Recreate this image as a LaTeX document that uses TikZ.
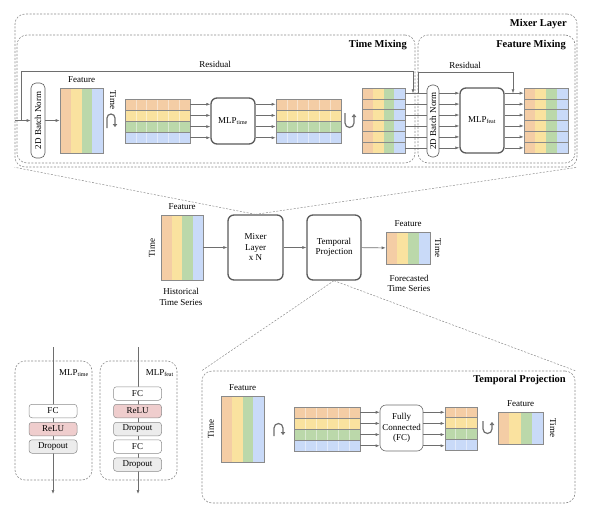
\documentclass[tikz,border=0pt]{standalone}
\usepackage{fontspec}
\setmainfont{Liberation Serif}
\usetikzlibrary{arrows.meta,calc}

\definecolor{cOr}{HTML}{F4CDA5}
\definecolor{cYe}{HTML}{FAE29F}
\definecolor{cGr}{HTML}{BBD8AA}
\definecolor{cBl}{HTML}{C9DAF8}
\definecolor{lgray}{HTML}{6E6E6E}
\definecolor{mgray}{HTML}{8A8A8A}
\definecolor{dgray}{HTML}{8C8C8C}
\definecolor{bgray}{HTML}{5A5A5A}
\definecolor{cRelu}{HTML}{EFCDCD}
\definecolor{cDrop}{HTML}{ECECEC}

\tikzset{
    vmat/.style={draw=mgray, line width=0.6pt, inner sep=0pt, path picture={
        \foreach \c [count=\i from 0] in {cOr,cYe,cGr,cBl}
            \fill[\c] ($(path picture bounding box.south west)!{\i/4}!(path picture bounding box.south east)$) rectangle ($(path picture bounding box.north west)!{(\i+1)/4}!(path picture bounding box.north east)$);
    }},
    vmatsix/.style={draw=mgray, line width=0.6pt, inner sep=0pt, path picture={
        \foreach \c [count=\i from 0] in {cOr,cYe,cGr,cBl}
            \fill[\c] ($(path picture bounding box.south west)!{\i/4}!(path picture bounding box.south east)$) rectangle ($(path picture bounding box.north west)!{(\i+1)/4}!(path picture bounding box.north east)$);
        \foreach \k in {1,...,5}
            \draw[mgray, line width=0.6pt] ($(path picture bounding box.north west)!{\k/6}!(path picture bounding box.south west)$) -- ($(path picture bounding box.north east)!{\k/6}!(path picture bounding box.south east)$);
    }},
    hmat/.style={draw=mgray, line width=0.6pt, inner sep=0pt, path picture={
        \foreach \c [count=\i from 0] in {cOr,cYe,cGr,cBl}
            \fill[\c] ($(path picture bounding box.north west)!{\i/4}!(path picture bounding box.south west)$) rectangle ($(path picture bounding box.north east)!{(\i+1)/4}!(path picture bounding box.south east)$);
        \foreach \k in {1,...,#1}
            \draw[white, opacity=0.45, line width=0.4pt] ($(path picture bounding box.north west)!{\k/(#1+1)}!(path picture bounding box.north east)$) -- ($(path picture bounding box.south west)!{\k/(#1+1)}!(path picture bounding box.south east)$);
        \foreach \k in {1,...,3}
            \draw[mgray, line width=0.6pt] ($(path picture bounding box.north west)!{\k/4}!(path picture bounding box.south west)$) -- ($(path picture bounding box.north east)!{\k/4}!(path picture bounding box.south east)$);
    }},
}

\begin{document}
\begin{tikzpicture}[x=1pt, y=1pt, font=\fontsize{9}{10.5}\selectfont,
    line/.style={draw=lgray, line width=0.6pt},
    arr/.style={line, -{Latex[length=4pt,width=3pt]}},
    region/.style={draw=dgray, line width=0.6pt, dash pattern=on 2pt off 1.5pt, rounded corners=10pt, inner sep=0pt},
    zoomline/.style={draw=dgray, line width=0.5pt, dash pattern=on 2pt off 1.5pt},
    title/.style={font=\fontsize{10.5}{12}\selectfont\bfseries, inner sep=0pt},
    block/.style={draw=bgray, line width=1.3pt, rounded corners=6pt, fill=white, align=center, inner sep=1pt},
    bnbox/.style={draw=bgray, line width=0.6pt, rounded corners=5pt, fill=white, inner sep=0pt},
    fcbox/.style={draw=lgray, line width=0.6pt, rounded corners=6pt, fill=white, align=center, inner sep=0pt},
    layer/.style={draw=mgray, line width=0.5pt, rounded corners=3pt, minimum width=48, minimum height=13.5, inner sep=0pt, fill=white},
    turn/.style={draw=lgray, line width=1.2pt, -{Triangle[length=3pt,width=4.5pt]}}]

    \useasboundingbox (0,0) rectangle (597,-511);

    \node[region, minimum width=562, minimum height=153] (mixbox) at (296,-90.5) {};
    \node[region, minimum width=398, minimum height=128] (timebox) at (216,-99) {};
    \node[region, minimum width=157, minimum height=128] (featbox) at (496.5,-99) {};
    \node[title, anchor=east] (mixtitle) at (567,-24) {Mixer Layer};
    \node[title, anchor=east] (timetitle) at (407,-45) {Time Mixing};
    \node[title, anchor=east] (feattitle) at (566,-45) {Feature Mixing};

    \node[bnbox, minimum width=14, minimum height=75] (bn1) at (38,-120.5) {\rotatebox{90}{2D Batch Norm}};
    \node[vmat, minimum width=43, minimum height=65] (m1) at (81.5,-120.5) {};
    \node (m1f) at (81.5,-80) {Feature};
    \node[rotate=-90] (m1t) at (113,-100) {Time};
    \node[hmat=5, minimum width=65, minimum height=44] (t1) at (157.5,-121) {};
    \node[block, minimum width=44, minimum height=46] (mlpt) at (233,-121) {MLP\textsubscript{time}};
    \node[hmat=5, minimum width=65, minimum height=44] (t2) at (308.5,-121) {};
    \node[vmatsix, minimum width=43, minimum height=65] (m2) at (383.5,-120.5) {};
    \node[bnbox, minimum width=12, minimum height=72] (bn2) at (433,-121) {\rotatebox{90}{2D Batch Norm}};
    \node[block, minimum width=44, minimum height=65] (mlpf) at (482,-120.5) {MLP\textsubscript{feat}};
    \node[vmatsix, minimum width=44, minimum height=65] (m3) at (546,-120.5) {};

    \draw[turn] (107,-128) -- (107,-118) arc[start angle=180, end angle=0, radius=4] -- (115,-127);
    \draw[turn] (345,-113) -- (345,-123) arc[start angle=180, end angle=360, radius=4.5] -- (354,-114);

    \coordinate (inL) at (15,-120.5);
    \coordinate (r1a) at (21,-120.5);
    \coordinate (r1b) at (21,-71);
    \coordinate (r1c) at (413,-71);
    \coordinate (r1d) at (413,-93.4);
    \coordinate (r2a) at (418,-93.4);
    \coordinate (r2b) at (418,-72);
    \coordinate (r2c) at (513,-72);
    \coordinate (r2d) at (513,-93.4);
    \draw[arr] (inL) -- (bn1);
    \draw[arr] (bn1) -- (m1);
    \draw[arr] (r1a) -- (r1b) -- (r1c) -- (r1d);
    \node (res1) at (215,-64) {Residual};
    \draw[arr] (r2a) -- (r2b) -- (r2c) -- (r2d);
    \node (res2) at (465,-65) {Residual};

    \foreach \k in {1,...,4} {
        \coordinate (p) at ($(t1.north east)!{(\k-0.5)/4}!(t1.south east)$);
        \draw[arr] (p) -- (p -| mlpt.west);
        \draw[arr] (p -| mlpt.east) -- (p -| t2.west);
    }
    \foreach \k in {1,...,6} {
        \coordinate (p) at ($(m2.north east)!{(\k-0.5)/6}!(m2.south east)$);
        \draw[line] (p) -- (p -| bn2.west);
        \draw[arr] (p -| bn2.east) -- (p -| mlpf.west);
        \draw[arr] (p -| mlpf.east) -- (p -| m3.west);
    }

    \node[vmat, minimum width=42, minimum height=65] (hist) at (182,-247.5) {};
    \node (histf) at (182,-207) {Feature};
    \node[rotate=90] (histt) at (152,-248) {Time};
    \node[align=center] (histl) at (181,-297) {Historical\\Time Series};
    \node[block, minimum width=55, minimum height=65] (mixer) at (255.5,-247.5) {Mixer\\Layer\\x N};
    \node[block, minimum width=54, minimum height=65] (tp) at (334,-247.5) {Temporal\\Projection};
    \node[vmat, minimum width=44, minimum height=32] (fc) at (408,-248) {};
    \node (fcf) at (408,-224) {Feature};
    \node[rotate=-90] (fct) at (438,-248) {Time};
    \node[align=center] (fcl) at (409,-283.5) {Forecasted\\Time Series};
    \draw[arr] (hist) -- (mixer);
    \draw[arr] (mixer) -- (tp);
    \draw[arr] (tp) -- (fc);

    \draw[zoomline] (mixer.north) -- (mixbox.south west);
    \draw[zoomline] (mixer.north) -- (mixbox.south east);

    \node[region, minimum width=373, minimum height=132] (tpbox) at (388.5,-437) {};
    \node[title, anchor=east] (tptitle) at (566,-380) {Temporal Projection};
    \draw[zoomline] (tp.south) -- (tpbox.north west);
    \draw[zoomline] (tp.south) -- (tpbox.north east);

    \node[vmat, minimum width=43, minimum height=66] (mA) at (242.5,-429) {};
    \node (mAf) at (242.5,-388) {Feature};
    \node[rotate=90] (mAt) at (211,-429) {Time};
    \node[hmat=5, minimum width=66, minimum height=44] (tA) at (327,-429) {};
    \node[fcbox, minimum width=43, minimum height=46] (fcb) at (401.5,-428) {Fully\\Connected\\(FC)};
    \node[hmat=2, minimum width=32, minimum height=43] (oA) at (461,-428.5) {};
    \node[vmat, minimum width=45, minimum height=32] (fA) at (520.5,-428) {};
    \node (fAf) at (520.5,-404) {Feature};
    \node[rotate=-90] (fAt) at (553,-428) {Time};
    \draw[turn] (274,-436) -- (274,-428) arc[start angle=180, end angle=0, radius=4.5] -- (283,-435);
    \draw[turn] (483,-421) -- (483,-429) arc[start angle=180, end angle=360, radius=4.5] -- (492,-422);
    \foreach \k in {1,...,4} {
        \coordinate (p) at ($(tA.north east)!{(\k-0.5)/4}!(tA.south east)$);
        \draw[arr] (p) -- (p -| fcb.west);
        \draw[arr] (p -| fcb.east) -- (p -| oA.west);
    }

    \node[region, minimum width=77, minimum height=119] (mlptbox) at (53.5,-420.5) {};
    \node[anchor=east, inner sep=0pt] (mlptl) at (89,-373) {MLP\textsubscript{time}};
    \coordinate (ta) at (53,-347);
    \coordinate (tb) at (53,-494);
    \draw[arr] (ta) -- (tb);
    \node[layer] (fc1) at (53,-411) {FC};
    \node[layer, fill=cRelu] (relu1) at (53,-429) {ReLU};
    \node[layer, fill=cDrop] (drop1) at (53,-446.5) {Dropout};

    \node[region, minimum width=77, minimum height=119] (mlpfbox) at (138.5,-420.5) {};
    \node[anchor=east, inner sep=0pt] (mlpfl) at (174,-373) {MLP\textsubscript{feat}};
    \coordinate (fa) at (138,-347);
    \coordinate (fb) at (138,-494);
    \draw[arr] (fa) -- (fb);
    \node[layer] (fc2) at (137.5,-393.5) {FC};
    \node[layer, fill=cRelu] (relu2) at (137.5,-411) {ReLU};
    \node[layer, fill=cDrop] (drop2) at (137.5,-429) {Dropout};
    \node[layer] (fc3) at (137.5,-446.5) {FC};
    \node[layer, fill=cDrop] (drop3) at (137.5,-464.5) {Dropout};
\end{tikzpicture}
\end{document}
